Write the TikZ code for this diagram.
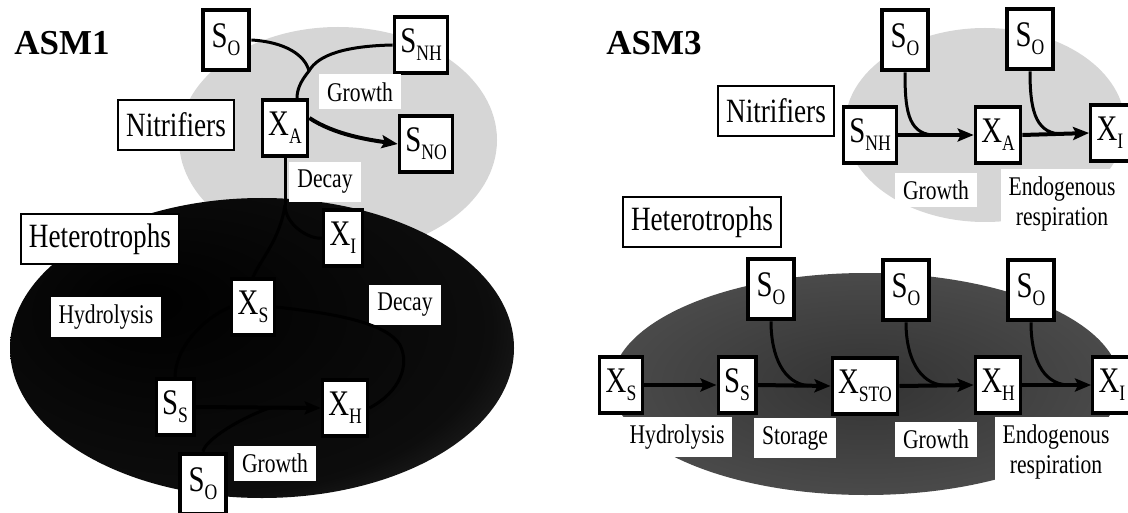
\documentclass[tikz,border=0pt]{standalone}
\usepackage{fontspec}
\usepackage{graphicx}
\setmainfont{Liberation Serif}
\usetikzlibrary{arrows.meta,positioning,calc}
\definecolor{nitgray}{RGB}{214,214,214}
\pgfdeclareradialshading{hetdark}{\pgfpoint{-12bp}{8bp}}{color(0bp)=(black); color(28bp)=(black!95); color(50bp)=(black!64)}
\pgfdeclareradialshading{hetmid}{\pgfpoint{0bp}{0bp}}{color(0bp)=(black!80); color(50bp)=(black!62)}
\newcommand{\nrw}[1]{\scalebox{0.8}[1]{#1}}
\newcommand{\symb}[2]{\nrw{#1\raisebox{-4pt}{\fontsize{11}{11}\selectfont #2}}}

\begin{document}
\begin{tikzpicture}[
  x=0.5pt, y=-0.5pt,
  var/.style={draw, fill=white, line width=1.6pt, font=\fontsize{18}{18}\selectfont, minimum height=28pt, inner xsep=3pt, inner ysep=0pt},
  oxy/.style={var, line width=2.4pt, minimum width=23pt, minimum height=30pt},
  group/.style={draw, fill=white, line width=1pt, font=\fontsize{17}{17}\selectfont, minimum height=25pt, inner xsep=4pt},
  proc/.style={fill=white, font=\fontsize{13.5}{15}\selectfont, inner xsep=4pt, inner ysep=4pt, align=center},
  title/.style={font=\bfseries\fontsize{17.5}{18}\selectfont},
  link/.style={line width=1.5pt},
  arrow/.style={line width=2pt, -{Stealth[length=8pt, width=6.5pt, inset=1.5pt]}}
]
  \useasboundingbox (0,0) rectangle (1128,513);

  % Groups
  \fill[nitgray] (338,140) ellipse [x radius=159, y radius=113];
  \shade[shading=hetdark] (262,348) ellipse [x radius=252, y radius=150];
  \fill[nitgray] (985,125) ellipse [x radius=140, y radius=97];
  \shade[shading=hetmid] (866,384) ellipse [x radius=254, y radius=111];

  % ASM1 nodes
  \node (title1) [title] at (62,43) {ASM1};
  \node (so1) [oxy] at (226,40) {\symb{S}{O}};
  \node (snh1) [var] at (421,45) {\symb{S}{NH}};
  \node (nit1) [group] at (176,125) {\nrw{Nitrifiers}};
  \node (xa1) [var] at (285,128) {\symb{X}{A}};
  \node (sno1) [var] at (426,144) {\symb{S}{NO}};
  \node (grow1) [proc] at (360,92) {\nrw{Growth}};
  \node (decay1) [proc] at (325,182) {\nrw{Decay}};
  \node (het1) [group] at (100,239) {\nrw{Heterotrophs}};
  \node (xi1) [var] at (343,238) {\symb{X}{I}};
  \node (hyd1) [proc] at (106,317) {\nrw{Hydrolysis}};
  \node (xs1) [var] at (253,307) {\symb{X}{S}};
  \node (decay1b) [proc] at (405,305) {\nrw{Decay}};
  \node (ss1) [var] at (175,407) {\symb{S}{S}};
  \node (xh1) [var] at (345,408) {\symb{X}{H}};
  \node (grow1b) [proc] at (275,463) {\nrw{Growth}};
  \node (so1b) [oxy] at (203,484) {\symb{S}{O}};

  % ASM1 paths
  \coordinate (join1) at (309,71);
  \coordinate (fork1) at (285,205);
  \coordinate (join2) at ($(ss1.east)!0.6!(xh1.west)$);
  \draw [link] (snh1.west) .. controls (345,46) and (318,55) .. (join1)
    .. controls (300,82) and (297,90) .. ([xshift=6pt]xa1.north);
  \draw [link] (so1.east) .. controls (285,42) and (305,55) .. (join1);
  \draw [arrow] ([yshift=5pt]xa1.east) .. controls (335,135) and (370,140) .. (sno1.west);
  \draw [link] (xa1.south) -- (fork1);
  \draw [link] (fork1) .. controls (285,225) and (310,240) .. (xi1.west);
  \draw [link] (fork1) .. controls (280,240) and (260,260) .. (xs1.north);
  \draw [link] (xs1.west) .. controls (200,320) and (175,350) .. (ss1.north);
  \draw [arrow] (ss1.east) -- (xh1.west);
  \draw [link] (so1b.north) .. controls (205,440) and (240,418) .. (join2);
  \draw [link] (xh1.east) .. controls (400,392) and (410,365) .. (400,345)
    .. controls (385,320) and (320,312) .. (xs1.east);

  % ASM3 nodes
  \node (title3) [title] at (654,43) {ASM3};
  \node (nit3) [group] at (776,111) {\nrw{Nitrifiers}};
  \node (so3a) [oxy] at (905,40) {\symb{S}{O}};
  \node (so3b) [oxy] at (1030,39) {\symb{S}{O}};
  \node (snh3) [var] at (870,135) {\symb{S}{NH}};
  \node (xa3) [var] at (998,135) {\symb{X}{A}};
  \node (xi3) [var] at (1110,133) {\symb{X}{I}};
  \node (grow3) [proc] at (936,190) {\nrw{Growth}};
  \node (endo3) [proc] at (1062,204) {\nrw{Endogenous}\\\nrw{respiration}};
  \node (het3) [group] at (702,222) {\nrw{Heterotrophs}};
  \node (so3c) [oxy] at (771,289) {\symb{S}{O}};
  \node (so3d) [oxy] at (906,290) {\symb{S}{O}};
  \node (so3e) [oxy] at (1031,290) {\symb{S}{O}};
  \node (xs3) [var] at (621,385) {\symb{X}{S}};
  \node (ss3) [var] at (737,385) {\symb{S}{S}};
  \node (xsto3) [var] at (865,386) {\symb{X}{STO}};
  \node (xh3) [var] at (998,385) {\symb{X}{H}};
  \node (xi3b) [var] at (1112,385) {\symb{X}{I}};
  \node (hyd3) [proc] at (677,437) {\nrw{Hydrolysis}};
  \node (stor3) [proc] at (795,438) {\nrw{Storage}};
  \node (grow3b) [proc] at (936,439) {\nrw{Growth}};
  \node (endo3b) [proc] at (1056,452) {\nrw{Endogenous}\\\nrw{respiration}};

  % ASM3 paths
  \coordinate (j3a) at ($(snh3.east)!0.45!(xa3.west)$);
  \coordinate (j3b) at ($(xa3.east)!0.55!(xi3.west)$);
  \coordinate (j3c) at ($(ss3.east)!0.7!(xsto3.west)$);
  \coordinate (j3d) at ($(xsto3.east)!0.6!(xh3.west)$);
  \coordinate (j3e) at ($(xh3.east)!0.65!(xi3b.west)$);
  \draw [arrow] (snh3.east) -- (xa3.west);
  \draw [arrow] (xa3.east) -- (xi3.west);
  \draw [link] (so3a.south) .. controls +(0,35) and +(-25,-2) .. (j3a);
  \draw [link] (so3b.south) .. controls +(0,35) and +(-25,-2) .. (j3b);
  \draw [arrow] (xs3.east) -- (ss3.west);
  \draw [arrow] (ss3.east) -- (xsto3.west);
  \draw [arrow] (xsto3.east) -- (xh3.west);
  \draw [arrow] (xh3.east) -- (xi3b.west);
  \draw [link] (so3c.south) .. controls +(0,35) and +(-25,-2) .. (j3c);
  \draw [link] (so3d.south) .. controls +(0,35) and +(-25,-2) .. (j3d);
  \draw [link] (so3e.south) .. controls +(0,35) and +(-25,-2) .. (j3e);
\end{tikzpicture}
\end{document}
